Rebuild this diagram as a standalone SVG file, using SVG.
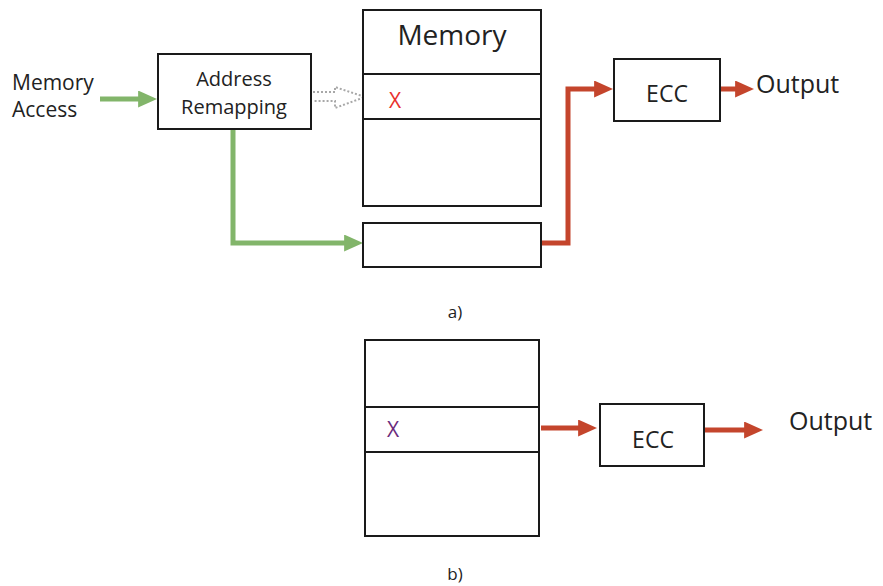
<svg xmlns="http://www.w3.org/2000/svg" width="883" height="586" viewBox="0 0 883 586">
  <style>
    .box { fill: #ffffff; stroke: #1a1a1a; stroke-width: 2; }
    .sep { stroke: #1a1a1a; stroke-width: 2; }
    .txt { font-family: "Open Sans", "Liberation Sans", sans-serif; fill: #222222; }
    .green { fill: none; stroke: #82b56a; stroke-width: 5; }
    .red { fill: none; stroke: #c4452c; stroke-width: 5; }
    .dotted { fill: none; stroke: #a8a8a8; stroke-width: 2; stroke-dasharray: 2 2; }
  </style>
  <defs>
    <marker id="ahGreen" viewBox="0 0 10 10" markerWidth="19" markerHeight="17" refX="1" refY="5" orient="auto" markerUnits="userSpaceOnUse" preserveAspectRatio="none">
      <path d="M0,0 L10,5 L0,10 z" fill="#82b56a"/>
    </marker>
    <marker id="ahRed" viewBox="0 0 10 10" markerWidth="19" markerHeight="17" refX="1" refY="5" orient="auto" markerUnits="userSpaceOnUse" preserveAspectRatio="none">
      <path d="M0,0 L10,5 L0,10 z" fill="#c4452c"/>
    </marker>
  </defs>

  <g id="connectors">
    <path class="green" d="M100,99 L140,99" marker-end="url(#ahGreen)"/>
    <path class="green" d="M233,130 L233,243 L346,243" marker-end="url(#ahGreen)"/>
    <path class="dotted" d="M313,92 L335,92 L335,87 L365,97 L335,108 L335,101 L313,101"/>
    <path class="red" d="M542,243 L568,243 L568,89 L596,89" marker-end="url(#ahRed)"/>
    <path class="red" d="M721,89 L737,89" marker-end="url(#ahRed)"/>
    <path class="red" d="M541,428 L580,428" marker-end="url(#ahRed)"/>
    <path class="red" d="M705,430 L746,430" marker-end="url(#ahRed)"/>
  </g>

  <g id="memory-access-label">
    <text class="txt" x="12" y="90" font-size="21">Memory</text>
    <text class="txt" x="12" y="117" font-size="21">Access</text>
  </g>

  <g id="address-remapping">
    <rect class="box" x="158" y="54" width="153" height="75"/>
    <text class="txt" x="234" y="86" font-size="20" text-anchor="middle">Address</text>
    <text class="txt" x="234" y="114" font-size="20" text-anchor="middle">Remapping</text>
  </g>

  <g id="memory-a">
    <rect class="box" x="363" y="10" width="178" height="196"/>
    <line class="sep" x1="363" y1="74" x2="541" y2="74"/>
    <line class="sep" x1="363" y1="119" x2="541" y2="119"/>
    <text class="txt" x="452" y="45" font-size="28" text-anchor="middle">Memory</text>
    <text x="389" y="108" font-size="21" font-family="'Open Sans', 'Liberation Sans', sans-serif" fill="#e8312d">X</text>
  </g>

  <g id="buffer-a">
    <rect class="box" x="363" y="223" width="178" height="44"/>
  </g>

  <g id="ecc-a">
    <rect class="box" x="614" y="59" width="106" height="62"/>
    <text class="txt" x="667" y="102" font-size="23" text-anchor="middle">ECC</text>
  </g>

  <g id="output-a">
    <text class="txt" x="756" y="93" font-size="25">Output</text>
  </g>

  <g id="label-a">
    <text class="txt" x="455" y="318" font-size="17" text-anchor="middle">a)</text>
  </g>

  <g id="memory-b">
    <rect class="box" x="365" y="340" width="174" height="196"/>
    <line class="sep" x1="365" y1="407" x2="539" y2="407"/>
    <line class="sep" x1="365" y1="452" x2="539" y2="452"/>
    <text x="387" y="437" font-size="21" font-family="'Open Sans', 'Liberation Sans', sans-serif" fill="#6b2c7c">X</text>
  </g>

  <g id="ecc-b">
    <rect class="box" x="600" y="404" width="104" height="62"/>
    <text class="txt" x="653" y="448" font-size="23" text-anchor="middle">ECC</text>
  </g>

  <g id="output-b">
    <text class="txt" x="789" y="430" font-size="25">Output</text>
  </g>

  <g id="label-b">
    <text class="txt" x="455" y="580" font-size="17" text-anchor="middle">b)</text>
  </g>
</svg>
